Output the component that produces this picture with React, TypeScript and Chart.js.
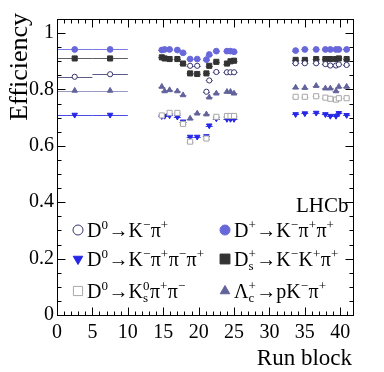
import React, { useEffect, useRef } from "react";
import { Chart, registerables } from "chart.js";

Chart.register(...registerables);

// ---- data ----
const runBlock = [2.5, 7.5, 14.8, 15.2, 15.9, 17.0, 17.8, 18.8, 19.8, 21.1, 21.5, 22.5, 24.0, 24.5, 25.0, 33.7, 35.0, 36.6, 37.9, 38.6, 39.4, 39.8, 40.9];
const runBlockHalfWidth = [2.5, 2.5, 0.5, 0.5, 0.5, 0.5, 0.5, 0.5, 0.5, 0.5, 0.5, 0.5, 0.5, 0.5, 0.5, 0.5, 0.5, 0.5, 0.5, 0.5, 0.5, 0.5, 0.5];

const effDplus = [0.942, 0.942, 0.940, 0.942, 0.942, 0.940, 0.930, 0.908, 0.908, 0.906, 0.924, 0.936, 0.936, 0.936, 0.934, 0.938, 0.942, 0.942, 0.942, 0.942, 0.942, 0.942, 0.942];
const effDs = [0.910, 0.910, 0.914, 0.910, 0.908, 0.908, 0.892, 0.857, 0.855, 0.857, 0.884, 0.898, 0.892, 0.900, 0.902, 0.905, 0.905, 0.908, 0.908, 0.908, 0.908, 0.910, 0.908];
const effD0Kpi = [0.845, 0.854, null, null, null, null, null, 0.884, 0.884, 0.792, 0.832, 0.862, 0.861, 0.861, 0.861, 0.893, 0.893, 0.893, 0.890, 0.885, 0.885, 0.889, 0.887];
const effLc = [0.796, 0.796, 0.810, 0.794, 0.798, 0.794, 0.780, 0.697, 0.715, 0.712, 0.772, 0.786, 0.792, 0.792, 0.786, 0.807, 0.806, 0.813, 0.804, 0.804, 0.794, 0.810, 0.810];
const effD0K3pi = [0.710, 0.710, 0.705, 0.706, 0.708, 0.703, 0.686, 0.632, 0.632, 0.634, 0.672, 0.697, 0.695, 0.695, 0.695, 0.712, 0.715, 0.717, 0.712, 0.706, 0.706, 0.716, 0.709];
const effD0KsPiPi = [null, null, 0.708, null, 0.717, 0.717, 0.678, 0.615, null, 0.626, null, 0.703, 0.706, 0.706, 0.706, 0.774, 0.774, 0.776, 0.771, 0.767, 0.764, 0.769, 0.769];

const xTickValues = [0, 5, 10, 15, 20, 25, 30, 35, 40];
const yTickValues = [0, 0.2, 0.4, 0.6, 0.8, 1];

const labelD0Kpi = "D^{0}→K^{−}π^{+}";
const labelDplus = "D^{+}→K^{−}π^{+}π^{+}";
const labelD0K3pi = "D^{0}→K^{−}π^{+}π^{−}π^{+}";
const labelDs = "D_{s}^{+}→K^{−}K^{+}π^{+}";
const labelD0KsPiPi = "D^{0}→K_{s}^{0}π^{+}π^{−}";
const labelLc = "Λ_{c}^{+}→pK^{−}π^{+}";

const SERIF = '"Liberation Serif", "Times New Roman", "DejaVu Serif", serif';

type Series = {
  label: string;
  values: (number | null)[];
  style: "circle" | "rect" | "triangle";
  rotation: number;
  fill: string;
  stroke: string;
  line: string;
  radius: number;
  legendRadius: number;
};

const series: Series[] = [
  { label: labelD0KsPiPi, values: effD0KsPiPi, style: "rect", rotation: 0, fill: "#ffffff", stroke: "#a8a8a8", line: "#c0c0c0", radius: 3.6, legendRadius: 6.5 },
  { label: labelD0K3pi, values: effD0K3pi, style: "triangle", rotation: 180, fill: "#2626e6", stroke: "#2626e6", line: "#4a4ae8", radius: 3.2, legendRadius: 5.5 },
  { label: labelLc, values: effLc, style: "triangle", rotation: 0, fill: "#62629c", stroke: "#62629c", line: "#9a9ac0", radius: 3.2, legendRadius: 5.5 },
  { label: labelD0Kpi, values: effD0Kpi, style: "circle", rotation: 0, fill: "#ffffff", stroke: "#34346e", line: "#5a5a85", radius: 2.6, legendRadius: 5 },
  { label: labelDs, values: effDs, style: "rect", rotation: 0, fill: "#333333", stroke: "#333333", line: "#606060", radius: 3.6, legendRadius: 7 },
  { label: labelDplus, values: effDplus, style: "circle", rotation: 0, fill: "#6868da", stroke: "#6868da", line: "#7a7ae4", radius: 2.9, legendRadius: 5 },
];

// legend layout order: [column][row]
const legendGrid = [
  [labelD0Kpi, labelD0K3pi, labelD0KsPiPi],
  [labelDplus, labelDs, labelLc],
];

type Tok = { base?: string; sup?: string; sub?: string };
function parseRich(s: string): Tok[] {
  const out: Tok[] = [];
  let i = 0;
  while (i < s.length) {
    const c = s[i];
    if ((c === "^" || c === "_") && s[i + 1] === "{") {
      const end = s.indexOf("}", i);
      const txt = s.slice(i + 2, end);
      const last = out[out.length - 1];
      if (last && last.base === undefined && (c === "^" ? last.sup === undefined : last.sub === undefined)) {
        if (c === "^") last.sup = txt;
        else last.sub = txt;
      } else out.push(c === "^" ? { sup: txt } : { sub: txt });
      i = end + 1;
    } else {
      let j = i;
      while (j < s.length && !((s[j] === "^" || s[j] === "_") && s[j + 1] === "{")) j++;
      out.push({ base: s.slice(i, j) });
      i = j;
    }
  }
  return out;
}

function drawRich(ctx: CanvasRenderingContext2D, s: string, x: number, y: number, size: number) {
  const toks = parseRich(s);
  const small = Math.round(size * 0.64);
  ctx.textAlign = "left";
  ctx.textBaseline = "alphabetic";
  let cx = x;
  for (const t of toks) {
    if (t.base !== undefined) {
      ctx.font = `${size}px ${SERIF}`;
      ctx.fillText(t.base, cx, y);
      cx += ctx.measureText(t.base).width;
    } else {
      ctx.font = `${small}px ${SERIF}`;
      let w = 0;
      if (t.sup !== undefined) {
        ctx.fillText(t.sup, cx, y - size * 0.42);
        w = Math.max(w, ctx.measureText(t.sup).width);
      }
      if (t.sub !== undefined) {
        ctx.fillText(t.sub, cx, y + size * 0.2);
        w = Math.max(w, ctx.measureText(t.sub).width);
      }
      cx += w + 0.5;
    }
  }
}

function drawMarker(ctx: CanvasRenderingContext2D, s: Series, x: number, y: number, r: number) {
  ctx.save();
  ctx.fillStyle = s.fill;
  ctx.strokeStyle = s.stroke;
  ctx.lineWidth = 1;
  ctx.beginPath();
  if (s.style === "circle") {
    ctx.arc(x, y, r, 0, Math.PI * 2);
  } else if (s.style === "rect") {
    const h = r * Math.SQRT1_2;
    ctx.rect(x - h, y - h, 2 * h, 2 * h);
  } else {
    const rot = (s.rotation * Math.PI) / 180;
    for (let k = 0; k < 3; k++) {
      const a = rot + (k * 2 * Math.PI) / 3;
      const px = x + Math.sin(a) * r;
      const py = y - Math.cos(a) * r;
      if (k === 0) ctx.moveTo(px, py);
      else ctx.lineTo(px, py);
    }
    ctx.closePath();
  }
  ctx.fill();
  ctx.stroke();
  ctx.restore();
}

const overlayPlugin = {
  id: "overlay",
  beforeDatasetsDraw(chart: any) {
    const { ctx, chartArea: a, scales } = chart;
    const xs = scales.x;
    const ys = scales.y;
    ctx.save();
    ctx.beginPath();
    ctx.rect(a.left, a.top, a.right - a.left, a.bottom - a.top);
    ctx.clip();
    ctx.lineWidth = 1;
    chart.data.datasets.forEach((ds: any, i: number) => {
      ctx.strokeStyle = series[i].line;
      ds.data.forEach((p: any) => {
        const yp = Math.round(ys.getPixelForValue(p.y)) + 0.5;
        ctx.beginPath();
        ctx.moveTo(xs.getPixelForValue(p.x - p.hw), yp);
        ctx.lineTo(xs.getPixelForValue(p.x + p.hw), yp);
        ctx.stroke();
      });
    });
    ctx.restore();
  },
  afterDraw(chart: any) {
    const { ctx, chartArea: a, scales } = chart;
    const xs = scales.x;
    const ys = scales.y;
    ctx.save();
    ctx.strokeStyle = "#000";
    ctx.lineWidth = 1;
    // frame
    ctx.strokeRect(Math.round(a.left) + 0.5, Math.round(a.top) + 0.5, Math.round(a.right - a.left), Math.round(a.bottom - a.top));
    // ticks
    const L = Math.round(a.left) + 0.5;
    const R = Math.round(a.right) + 0.5;
    const T = Math.round(a.top) + 0.5;
    const B = Math.round(a.bottom) + 0.5;
    ctx.beginPath();
    for (let v = 0; v <= xs.max + 1e-9; v += 1) {
      const px = Math.round(xs.getPixelForValue(v)) + 0.5;
      const len = v % 5 === 0 ? 8 : 4;
      ctx.moveTo(px, B);
      ctx.lineTo(px, B - len);
      ctx.moveTo(px, T);
      ctx.lineTo(px, T + len);
    }
    for (let k = 0; k * 0.05 <= ys.max + 1e-9; k++) {
      const py = Math.round(ys.getPixelForValue(k * 0.05)) + 0.5;
      const len = k % 4 === 0 ? 8 : 4;
      ctx.moveTo(L, py);
      ctx.lineTo(L + len, py);
      ctx.moveTo(R, py);
      ctx.lineTo(R - len, py);
    }
    ctx.stroke();

    ctx.fillStyle = "#000";
    // axis titles
    ctx.font = `26px ${SERIF}`;
    ctx.save();
    ctx.translate(27, 13);
    ctx.rotate(-Math.PI / 2);
    ctx.textAlign = "right";
    ctx.textBaseline = "alphabetic";
    ctx.fillText("Efficiency", 0, 0);
    ctx.restore();

    ctx.font = `23px ${SERIF}`;
    ctx.textAlign = "right";
    ctx.textBaseline = "alphabetic";
    ctx.fillText("Run block", 352, 365);

    // LHCb label
    ctx.font = `21px ${SERIF}`;
    ctx.textAlign = "left";
    ctx.fillText("LHCb", 296, 212);

    // legend
    const colX = [78, 225];
    const rowY = [230, 259, 291];
    legendGrid.forEach((col, ci) => {
      col.forEach((lab, ri) => {
        const s = series.find((q) => q.label === lab)!;
        drawMarker(ctx, s, colX[ci], rowY[ri], s.legendRadius);
        ctx.fillStyle = "#000";
        drawRich(ctx, lab, colX[ci] + 9, rowY[ri] + 7, 20);
      });
    });
    ctx.restore();
  },
};

export default function App() {
  const ref = useRef<HTMLCanvasElement | null>(null);
  useEffect(() => {
    if (!ref.current) return;
    const datasets = series.map((s) => ({
      label: s.label,
      data: runBlock
        .map((x, i) => ({ x, y: s.values[i], hw: runBlockHalfWidth[i] }))
        .filter((p) => p.y !== null),
      pointStyle: s.style,
      rotation: s.rotation,
      pointRadius: s.radius,
      pointBackgroundColor: s.fill,
      pointBorderColor: s.stroke,
      pointBorderWidth: 1,
      showLine: false,
    }));
    const chart = new Chart(ref.current, {
      type: "scatter",
      data: { datasets },
      options: {
        animation: false,
        responsive: false,
        devicePixelRatio: 1,
        layout: { padding: { top: 19, right: 31, left: 0, bottom: 0 } },
        plugins: { legend: { display: false }, tooltip: { enabled: false } },
        scales: {
          x: {
            type: "linear",
            min: 0,
            max: 41.8,
            grid: { display: false, drawTicks: false },
            border: { display: false },
            afterBuildTicks: (sc: any) => {
              sc.ticks = xTickValues.map((value) => ({ value }));
            },
            afterFit: (sc: any) => {
              sc.height = 57;
            },
            ticks: {
              padding: 6,
              color: "#000",
              font: { family: SERIF, size: 20 },
              maxRotation: 0,
              autoSkip: false,
              callback: (v: any) => String(v),
            },
          },
          y: {
            type: "linear",
            min: 0,
            max: 1.05,
            grid: { display: false, drawTicks: false },
            border: { display: false },
            afterBuildTicks: (sc: any) => {
              sc.ticks = yTickValues.map((value) => ({ value }));
            },
            afterFit: (sc: any) => {
              sc.width = 57;
            },
            ticks: {
              padding: 3,
              color: "#000",
              font: { family: SERIF, size: 20 },
              autoSkip: false,
              callback: (v: any) => (v === 0 ? "0" : v === 1 ? "1" : Number(v).toFixed(1)),
            },
          },
        },
      },
      plugins: [overlayPlugin],
    } as any);
    return () => chart.destroy();
  }, []);
  return (
    <div style={{ position: "fixed", left: 0, top: 0, width: 384, height: 372, background: "#fff" }}>
      <canvas ref={ref} width={384} height={372} style={{ width: 384, height: 372 }} />
    </div>
  );
}
